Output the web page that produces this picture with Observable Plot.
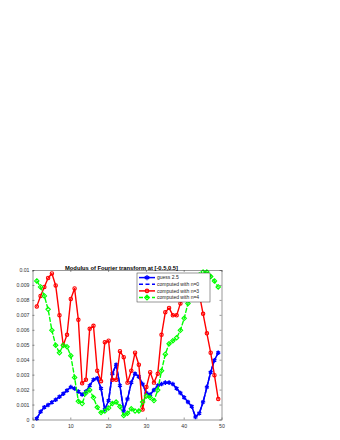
<!DOCTYPE html>
<html><head><meta charset="utf-8">
<script src="https://cdn.jsdelivr.net/npm/d3@7"></script>
<script src="https://cdn.jsdelivr.net/npm/@observablehq/plot@0.6"></script>
<style>body{margin:0;background:#fff;} #chart{width:340px;height:440px;}</style>
</head><body><div id="chart"></div>
<script>
const xIndex = [1,2,3,4,5,6,7,8,9,10,11,12,13,14,15,16,17,18,19,20,21,22,23,24,25,26,27,28,29,30,31,32,33,34,35,36,37,38,39,40,41,42,43,44,45,46,47,48,49];
const guess = [0.0001,0.00055,0.00085,0.001,0.00118,0.00136,0.00155,0.00175,0.00198,0.0022,0.0021,0.0019,0.0017,0.0019,0.0023,0.0027,0.0028,0.0021,0.0007,0.0013,0.0031,0.0037,0.0023,0.0006,0.0014,0.0025,0.0031,0.0029,0.0024,0.0018,0.0017,0.002,0.0023,0.0024,0.0025,0.0025,0.0024,0.0021,0.0018,0.0015,0.0012,0.0009,0.0002,0.00045,0.0012,0.0022,0.0032,0.004,0.0045];
const n0 = [0.0001,0.00055,0.00085,0.001,0.00118,0.00136,0.00155,0.00175,0.00198,0.0022,0.0021,0.0019,0.0017,0.0019,0.0023,0.0027,0.0028,0.0021,0.0007,0.0013,0.0031,0.0037,0.0023,0.0006,0.0014,0.0025,0.0031,0.0029,0.0024,0.0018,0.0017,0.002,0.0023,0.0024,0.0025,0.0025,0.0024,0.0021,0.0018,0.0015,0.0012,0.0009,0.0002,0.00045,0.0012,0.0022,0.0032,0.004,0.0045];
const n3 = [0.0076,0.0083,0.0089,0.0095,0.0098,0.009,0.007,0.005,0.0057,0.0081,0.0088,0.0067,0.00245,0.0027,0.0061,0.0063,0.0033,0.0026,0.0052,0.0053,0.0027,0.0027,0.0046,0.0042,0.0025,0.0033,0.0045,0.0037,0.0007,0.0022,0.0032,0.0025,0.0031,0.0057,0.0072,0.0075,0.007,0.007,0.0078,0.0086,0.0092,0.0094,0.0091,0.0084,0.0071,0.0058,0.0045,0.003,0.0014];
const n4 = [0.0093,0.0089,0.0083,0.0074,0.006,0.005,0.0045,0.005,0.0049,0.0043,0.00285,0.00125,0.0011,0.0018,0.002,0.0015,0.00085,0.0005,0.0006,0.0008,0.0011,0.0012,0.0009,0.0003,0.00045,0.00075,0.0006,0.0006,0.0012,0.0016,0.0015,0.0013,0.002,0.0033,0.0044,0.0051,0.0053,0.0055,0.006,0.0068,0.0078,0.0088,0.0093,0.0097,0.0099,0.0099,0.0096,0.0093,0.0089];
const seriesNames = ["guess 2.5","computed with n=0","computed with n=3","computed with n=4"];
const seriesColors = ["#0000ff","#0000ff","#ff0000","#00ff00"];
const xTicks = [0,10,20,30,40,50];
const yTicks = [0,0.001,0.002,0.003,0.004,0.005,0.006,0.007,0.008,0.009,0.01];
const titleText = "Modulus of Fourier transform at [-0.5,0.5]";

const mk = arr => xIndex.map((x,i)=>({x, y: arr[i]}));
const dGuess = mk(guess), dN0 = mk(n0), dN3 = mk(n3), dN4 = mk(n4);

const W=340,H=440,mL=32.5,mR=118.5,mT=270,mB=20.5;
const pW=W-mL-mR, pH=H-mT-mB;
const ax = "#333";
const plot = Plot.plot({
  width:W, height:H, marginLeft:mL, marginRight:mR, marginTop:mT, marginBottom:mB,
  style:{fontFamily:"'Liberation Sans', Arial, sans-serif", fontSize:"5px", color:"#333", background:"#fff", overflow:"visible"},
  x:{domain:[0,50]}, y:{domain:[0,0.01]},
  marks:[
    Plot.axisX({ticks:xTicks, tickSize:0, tickPadding:4, label:null, tickFormat:d=>String(d), fontSize:5.2}),
    Plot.axisY({ticks:yTicks, tickSize:0, tickPadding:3.5, label:null, tickFormat:d=>d===0?"0":String(+d.toFixed(3)), fontSize:5.2}),
    Plot.tickX(xTicks,{x:d=>d, insetTop:pH-2, stroke:ax, strokeWidth:0.5}),
    Plot.tickX(xTicks,{x:d=>d, insetBottom:pH-2, stroke:ax, strokeWidth:0.5}),
    Plot.tickY(yTicks,{y:d=>d, insetRight:pW-2, stroke:ax, strokeWidth:0.5}),
    Plot.tickY(yTicks,{y:d=>d, insetLeft:pW-2, stroke:ax, strokeWidth:0.5}),
    Plot.line(dGuess,{x:"x",y:"y",stroke:seriesColors[0],strokeWidth:1.5}),
    Plot.dot(dGuess,{x:"x",y:"y",symbol:"asterisk",r:2.1,stroke:seriesColors[0],strokeWidth:1.4}),
    Plot.line(dN0,{x:"x",y:"y",stroke:seriesColors[1],strokeWidth:1.5,strokeDasharray:"4,2.5"}),
    Plot.line(dN3,{x:"x",y:"y",stroke:seriesColors[2],strokeWidth:1.4}),
    Plot.dot(dN3,{x:"x",y:"y",symbol:"circle",r:1.7,stroke:seriesColors[2],strokeWidth:1.1,fill:"none"}),
    Plot.line(dN4,{x:"x",y:"y",stroke:seriesColors[3],strokeWidth:1.4,strokeDasharray:"4,2.5"}),
    Plot.dot(dN4,{x:"x",y:"y",symbol:"diamond2",r:2.0,stroke:seriesColors[3],strokeWidth:1.1,fill:"none"}),
    Plot.frame({stroke:ax, strokeWidth:0.5}),
    Plot.text([titleText],{text:d=>d, frameAnchor:"top", dy:-5, dx:-6, fontWeight:"bold", fontSize:5.8, fill:"#000"})
  ]
});
document.getElementById("chart").appendChild(plot);

// legend
const svg = d3.select(plot);
const lg = svg.append("g").attr("text-anchor","start");
const lx=137, ly=273, lw=73, lh=29;
lg.append("rect").attr("x",lx).attr("y",ly).attr("width",lw).attr("height",lh).attr("fill","#fff").attr("stroke",ax).attr("stroke-width",0.5);
const legSymbols = [d3.symbolAsterisk, null, d3.symbolCircle, d3.symbolDiamond2];
const legDash = [null,"4,2.5",null,"4,2.5"];
seriesNames.forEach((name,i)=>{
  const yy = ly+4.6+6.65*i;
  lg.append("line").attr("x1",lx+2).attr("x2",lx+18).attr("y1",yy).attr("y2",yy)
    .attr("stroke",seriesColors[i]).attr("stroke-width",1.5).attr("stroke-dasharray",legDash[i]);
  if (legSymbols[i]) {
    const sz = i===0 ? 18 : (i===2 ? 9 : 14);
    lg.append("path").attr("d",d3.symbol(legSymbols[i], sz)()).attr("transform",`translate(${lx+10},${yy})`)
      .attr("fill","none").attr("stroke",seriesColors[i]).attr("stroke-width",1.2);
  }
  lg.append("text").attr("x",lx+20).attr("y",yy).attr("dy","0.35em").attr("font-size",5).attr("fill","#222")
    .attr("text-anchor","start")
    .attr("font-family","'Liberation Sans', Arial, sans-serif").text(name);
});
</script></body></html>
